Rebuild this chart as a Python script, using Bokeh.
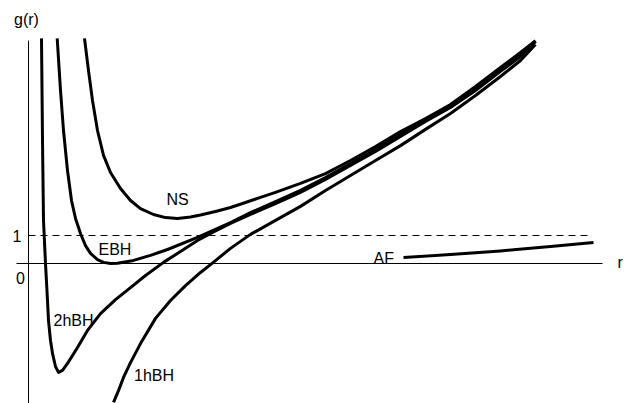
from bokeh.plotting import figure
from bokeh.embed import file_html
from bokeh.resources import INLINE
from bokeh.core.properties import value

# ---- data (r, g(r)) ----
ns_r = [1.12, 1.20, 1.28, 1.38, 1.50, 1.64, 1.84, 2.04, 2.24, 2.50, 2.74, 2.98, 3.24, 3.44, 3.74, 4.04, 4.34, 4.64, 4.94,
        5.44, 5.94, 6.44, 6.94, 7.44, 7.94, 8.44, 8.94, 9.44, 9.84, 10.14]
ns_g = [8.04, 6.89, 5.82, 4.75, 3.86, 3.25, 2.68, 2.25, 1.96, 1.75, 1.64, 1.61, 1.66, 1.73, 1.86, 2.00, 2.18, 2.36, 2.54,
        2.86, 3.21, 3.68, 4.18, 4.71, 5.18, 5.68, 6.32, 7.00, 7.54, 7.96]

ebh_r = [0.574, 0.64, 0.70, 0.78, 0.86, 0.94, 1.04, 1.14, 1.24, 1.38, 1.50, 1.64, 1.78, 2.10, 2.44, 2.78, 3.38, 4.04, 4.44,
         4.94, 5.44, 5.94, 6.44, 6.94, 7.44, 7.94, 8.44, 8.94, 9.44, 9.84, 10.14]
ebh_g = [8.04, 6.18, 4.75, 3.32, 2.25, 1.61, 1.07, 0.64, 0.36, 0.14, 0.04, 0.00, 0.01, 0.11, 0.29, 0.50, 0.93, 1.46, 1.82,
         2.21, 2.61, 3.07, 3.57, 4.07, 4.61, 5.14, 5.64, 6.21, 6.89, 7.43, 7.93]

bh2_r = [0.26, 0.28, 0.30, 0.34, 0.38, 0.40, 0.44, 0.48, 0.54, 0.60, 0.68, 0.78, 0.98, 1.18, 1.44, 1.74, 2.04, 2.34, 2.70,
         3.04, 3.38, 3.74, 4.04, 4.44, 4.94, 5.44, 5.94, 6.44, 6.94, 7.44, 7.94, 8.44, 8.94, 9.44, 9.84, 10.14]
bh2_g = [8.04, 4.39, 1.54, 0.00, -1.32, -2.04, -2.75, -3.21, -3.68, -3.89, -3.82, -3.57, -3.00, -2.39, -1.79, -1.29, -0.86, -0.43, 0.04,
         0.43, 0.82, 1.16, 1.43, 1.75, 2.14, 2.54, 3.00, 3.50, 4.00, 4.54, 5.07, 5.57, 6.18, 6.86, 7.39, 7.93]

bh1_r = [1.70, 1.80, 1.90, 2.04, 2.24, 2.54, 2.84, 3.14, 3.44, 3.64, 4.04, 4.44, 4.94, 5.44, 5.94, 6.44, 6.94, 7.44,
         7.94, 8.44, 8.94, 9.44, 9.84, 10.14]
bh1_g = [-4.96, -4.54, -4.07, -3.54, -2.86, -1.96, -1.32, -0.79, -0.32, -0.04, 0.54, 1.04, 1.54, 2.04, 2.61, 3.14, 3.68, 4.21,
         4.79, 5.36, 6.00, 6.68, 7.25, 7.82]

af_r = [7.50, 8.44, 9.44, 10.44, 11.30]
af_g = [0.21, 0.32, 0.45, 0.61, 0.75]

# axes / reference line extents
yaxis_r = [0.0, 0.0]
yaxis_g = [7.96, -5.2]
xaxis_r = [-0.24, 11.48]
xaxis_g = [0.0, 0.0]
dash_r = [0.0, 11.24]
dash_g = [1.0, 1.0]

# labels
label_text = ["NS", "EBH", "2hBH", "1hBH", "AF", "1", "0", "g(r)", "r"]
label_r = [2.76, 1.40, 0.50, 2.11, 6.90, -0.32, -0.25, -0.29, 11.78]
label_g = [2.29, 0.50, -2.03, -4.00, 0.19, 0.98, -0.53, 8.72, 0.04]

p = figure(width=625, height=403, x_range=(-0.56, 11.94), y_range=(-5.0, 9.393),
           output_backend="svg", toolbar_location=None, min_border=0,
           x_axis_location=None, y_axis_location=None)
p.grid.visible = False
p.outline_line_color = None
p.background_fill_color = "white"
p.border_fill_color = "white"

# axes lines
p.line(yaxis_r, yaxis_g, line_color="black", line_width=1)
p.line(xaxis_r, xaxis_g, line_color="black", line_width=1)
p.line(dash_r, dash_g, line_color="black", line_width=1, line_dash="7 5")

for rr, gg in [(ns_r, ns_g), (ebh_r, ebh_g), (bh2_r, bh2_g), (bh1_r, bh1_g), (af_r, af_g)]:
    p.line(rr, gg, line_color="black", line_width=3, line_join="round")

p.text(x=label_r, y=label_g, text=label_text, text_font=value("Liberation Sans"),
       text_font_size="16px", text_color="black", text_align="left",
       text_baseline="alphabetic")

open("out.html", "w").write(file_html(p, INLINE))
